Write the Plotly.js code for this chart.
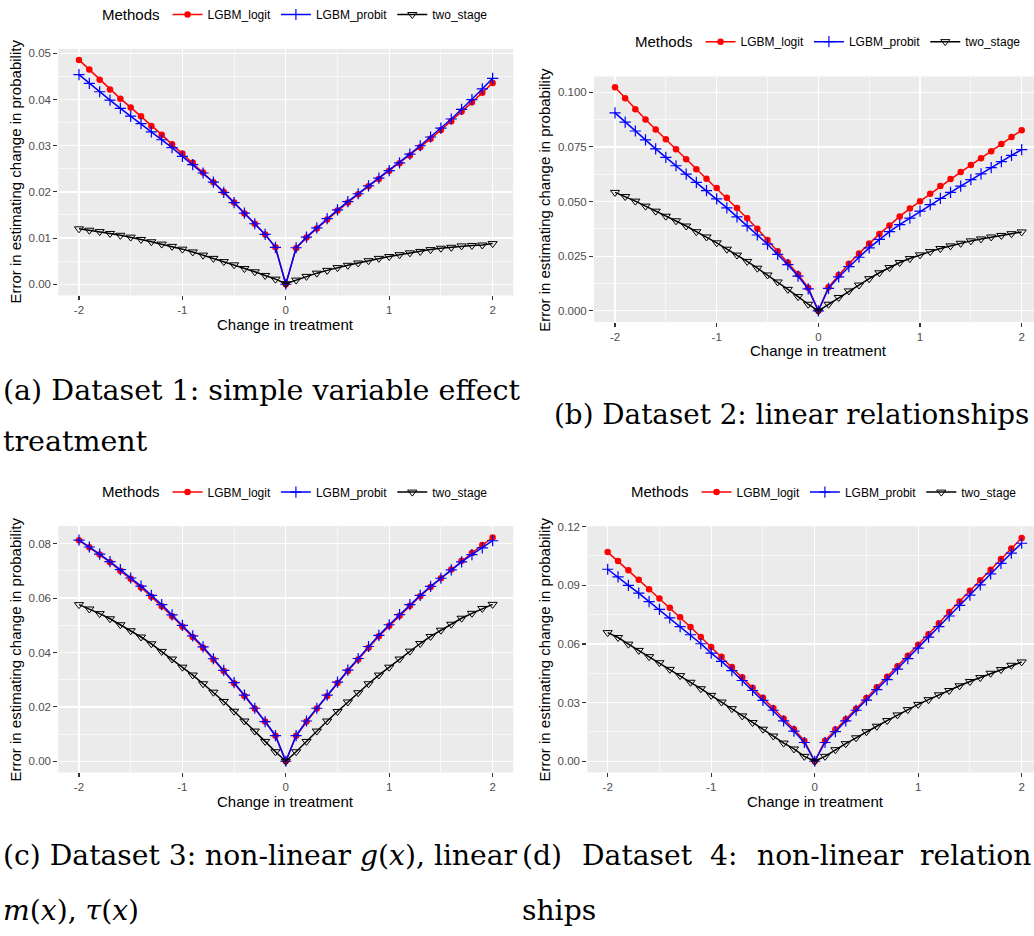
<!DOCTYPE html>
<html>
<head>
<meta charset="utf-8">
<script src="https://cdn.plot.ly/plotly-3.0.1.min.js"></script>
<style>html,body{margin:0;padding:0;background:#fff;}#chart{width:1034px;height:936px;}</style>
</head>
<body>
<div id="chart"></div>
<script>
// ---- data ----
const methods = ["LGBM_logit", "LGBM_probit", "two_stage"];
const treatment = [-2,-1.9,-1.8,-1.7,-1.6,-1.5,-1.4,-1.3,-1.2,-1.1,-1,-0.9,-0.8,-0.7,-0.6,-0.5,-0.4,-0.3,-0.2,-0.1,0,0.1,0.2,0.3,0.4,0.5,0.6,0.7,0.8,0.9,1,1.1,1.2,1.3,1.4,1.5,1.6,1.7,1.8,1.9,2];

// Dataset 1
const a_logit = [0.0486,0.0465,0.0443,0.0422,0.0402,0.0383,0.0364,0.0343,0.0324,0.0303,0.0283,0.0263,0.0242,0.0221,0.0200,0.0177,0.0153,0.0131,0.0108,0.0080,0.0000,0.0078,0.0101,0.0121,0.0140,0.0160,0.0177,0.0195,0.0212,0.0228,0.0246,0.0262,0.0279,0.0297,0.0315,0.0334,0.0353,0.0374,0.0394,0.0415,0.0436];
const a_probit = [0.0454,0.0435,0.0417,0.0399,0.0381,0.0364,0.0348,0.0330,0.0313,0.0296,0.0277,0.0259,0.0241,0.0221,0.0199,0.0177,0.0154,0.0131,0.0108,0.0080,0.0000,0.0079,0.0102,0.0122,0.0142,0.0161,0.0179,0.0196,0.0213,0.0230,0.0246,0.0263,0.0282,0.0300,0.0319,0.0338,0.0358,0.0379,0.0400,0.0423,0.0446];
const a_two = [0.0120,0.0117,0.0114,0.0110,0.0106,0.0102,0.0097,0.0092,0.0087,0.0082,0.0076,0.0070,0.0063,0.0056,0.0049,0.0042,0.0034,0.0027,0.0019,0.0011,0.0001,0.0009,0.0017,0.0024,0.0030,0.0036,0.0041,0.0046,0.0051,0.0056,0.0060,0.0064,0.0068,0.0071,0.0075,0.0078,0.0080,0.0083,0.0084,0.0085,0.0088];

// Dataset 2
const b_logit = [0.1023,0.0973,0.0923,0.0876,0.0830,0.0785,0.0739,0.0694,0.0648,0.0605,0.0562,0.0517,0.0471,0.0424,0.0376,0.0324,0.0273,0.0221,0.0167,0.0106,0.0000,0.0108,0.0164,0.0215,0.0262,0.0308,0.0352,0.0391,0.0432,0.0468,0.0502,0.0536,0.0571,0.0603,0.0635,0.0667,0.0698,0.0730,0.0764,0.0795,0.0827];
const b_probit = [0.0906,0.0864,0.0823,0.0782,0.0741,0.0702,0.0664,0.0626,0.0588,0.0550,0.0512,0.0471,0.0430,0.0389,0.0347,0.0305,0.0258,0.0211,0.0159,0.0100,0.0000,0.0103,0.0155,0.0202,0.0245,0.0288,0.0327,0.0362,0.0394,0.0424,0.0456,0.0486,0.0515,0.0542,0.0571,0.0600,0.0627,0.0655,0.0683,0.0711,0.0738];
const b_two = [0.0542,0.0523,0.0502,0.0479,0.0456,0.0433,0.0412,0.0388,0.0362,0.0338,0.0311,0.0282,0.0255,0.0226,0.0195,0.0164,0.0132,0.0098,0.0065,0.0030,0.0000,0.0030,0.0061,0.0091,0.0118,0.0147,0.0174,0.0198,0.0221,0.0239,0.0256,0.0271,0.0285,0.0297,0.0309,0.0320,0.0329,0.0338,0.0345,0.0353,0.0361];

// Dataset 3
const c_logit = [0.0813,0.0787,0.0760,0.0732,0.0701,0.0671,0.0639,0.0605,0.0570,0.0533,0.0496,0.0457,0.0417,0.0374,0.0332,0.0287,0.0240,0.0194,0.0146,0.0094,0.0000,0.0094,0.0146,0.0194,0.0240,0.0288,0.0332,0.0374,0.0417,0.0460,0.0498,0.0535,0.0572,0.0607,0.0641,0.0673,0.0705,0.0737,0.0766,0.0795,0.0823];
const c_probit = [0.0813,0.0788,0.0762,0.0734,0.0705,0.0674,0.0644,0.0610,0.0576,0.0538,0.0500,0.0461,0.0421,0.0377,0.0334,0.0289,0.0243,0.0195,0.0146,0.0094,0.0000,0.0094,0.0148,0.0195,0.0243,0.0291,0.0335,0.0378,0.0422,0.0463,0.0502,0.0539,0.0576,0.0610,0.0643,0.0673,0.0704,0.0733,0.0760,0.0785,0.0811];
const c_two = [0.0576,0.0560,0.0543,0.0524,0.0502,0.0480,0.0457,0.0432,0.0404,0.0376,0.0346,0.0317,0.0285,0.0254,0.0220,0.0184,0.0148,0.0111,0.0073,0.0035,0.0000,0.0035,0.0073,0.0111,0.0148,0.0183,0.0218,0.0252,0.0285,0.0317,0.0346,0.0376,0.0405,0.0433,0.0459,0.0482,0.0504,0.0526,0.0544,0.0562,0.0577];

// Dataset 4
const d_logit = [0.1070,0.1024,0.0977,0.0928,0.0880,0.0833,0.0785,0.0736,0.0687,0.0636,0.0584,0.0535,0.0482,0.0430,0.0376,0.0325,0.0271,0.0217,0.0164,0.0105,0.0000,0.0105,0.0162,0.0215,0.0269,0.0323,0.0379,0.0432,0.0486,0.0540,0.0596,0.0650,0.0706,0.0763,0.0817,0.0872,0.0926,0.0980,0.1034,0.1088,0.1142];
const d_probit = [0.0982,0.0943,0.0900,0.0860,0.0817,0.0777,0.0733,0.0689,0.0647,0.0601,0.0553,0.0511,0.0464,0.0413,0.0362,0.0311,0.0261,0.0207,0.0154,0.0096,0.0000,0.0096,0.0152,0.0207,0.0261,0.0313,0.0366,0.0418,0.0471,0.0525,0.0579,0.0635,0.0689,0.0743,0.0797,0.0850,0.0902,0.0958,0.1012,0.1065,0.1115];
const d_two = [0.0658,0.0633,0.0599,0.0567,0.0535,0.0504,0.0470,0.0438,0.0404,0.0371,0.0337,0.0303,0.0269,0.0232,0.0198,0.0164,0.0129,0.0093,0.0063,0.0025,0.0000,0.0025,0.0059,0.0090,0.0120,0.0151,0.0179,0.0208,0.0237,0.0264,0.0291,0.0315,0.0340,0.0362,0.0386,0.0408,0.0428,0.0450,0.0469,0.0491,0.0508];

const xTicks = [-2, -1, 0, 1, 2];
const yTicksA = [0, 0.01, 0.02, 0.03, 0.04, 0.05];
const yTicksB = [0, 0.025, 0.05, 0.075, 0.1];
const yTicksC = [0, 0.02, 0.04, 0.06, 0.08];
const yTicksD = [0, 0.03, 0.06, 0.09, 0.12];
const xTitle = "Change in treatment";
const yTitle = "Error in estimating change in probability";
const legendTitle = "Methods";

// ---- figure ----
const W = 1034, H = 936;
const px = v => v / W;
const py = v => 1 - v / H;
const SANS = "Liberation Sans, Arial, sans-serif";
const SERIF = "DejaVu Serif, serif";

const styles = [
  {color: "#FF0000", symbol: "circle", size: 6.5, mline: 0},
  {color: "#0000FF", symbol: "cross-thin", size: 8, mline: 1.2},
  {color: "#000000", symbol: "triangle-down-open", size: 8, mline: 1}
];

const panels = [
  {series: [a_logit, a_probit, a_two], ticks: yTicksA, fmt: ".2f", minor: 0.005,
   dom: [[58.3, 513.3], [45, 292.7]], xr: [-2.2, 2.2], yr: [-0.00243, 0.0510], legend: "legend"},
  {series: [b_logit, b_probit, b_two], ticks: yTicksB, fmt: ".3f", minor: 0.0125,
   dom: [[594, 1034], [72.7, 319.3]], xr: [-2.2066, 2.121], yr: [-0.0051, 0.1073], legend: "legend2"},
  {series: [c_logit, c_probit, c_two], ticks: yTicksC, fmt: ".2f", minor: 0.01,
   dom: [[58.3, 513.3], [524.3, 771.7]], xr: [-2.2, 2.2], yr: [-0.0041, 0.0865], legend: "legend3"},
  {series: [d_logit, d_probit, d_two], ticks: yTicksD, fmt: ".2f", minor: 0.015,
   dom: [[587.3, 1034], [524.5, 771.7]], xr: [-2.197, 2.119], yr: [-0.0057, 0.1202], legend: "legend4"}
];

const traces = [];
const layout = {
  width: W, height: H,
  margin: {l: 0, r: 0, t: 0, b: 0},
  paper_bgcolor: "#FFFFFF",
  plot_bgcolor: "#EBEBEB",
  font: {family: SANS, color: "#000000"},
  showlegend: true,
  annotations: [],
  shapes: []
};

const legendPos = [[100, 11], [633, 38.3], [100, 490.7], [629, 490.7]];

panels.forEach((p, i) => {
  const n = i === 0 ? "" : String(i + 1);
  const xa = "x" + n, ya = "y" + n;
  p.series.forEach((ys, k) => {
    const s = styles[k];
    traces.push({
      type: "scatter", mode: "lines+markers",
      x: treatment, y: ys, name: methods[k],
      xaxis: xa, yaxis: ya, legend: p.legend,
      line: {color: s.color, width: 1.5},
      marker: {color: s.color, symbol: s.symbol, size: s.size,
               line: {color: s.color, width: s.mline}},
      hoverinfo: "x+y+name"
    });
  });
  layout["xaxis" + n] = {
    domain: [px(p.dom[0][0]), px(p.dom[0][1])], anchor: ya,
    range: p.xr, tickvals: xTicks, ticktext: xTicks.map(String),
    ticks: "outside", ticklen: 4, tickwidth: 1.1, tickcolor: "#333333",
    tickfont: {size: 11.5, color: "#4D4D4D", family: SANS},
    showgrid: true, gridcolor: "#FFFFFF", gridwidth: 1.3,
    minor: {dtick: 0.5, tick0: 0, showgrid: true, gridcolor: "#FFFFFF", gridwidth: 0.6, ticks: ""},
    zeroline: false, showline: false, fixedrange: true
  };
  layout["yaxis" + n] = {
    domain: [py(p.dom[1][1]), py(p.dom[1][0])], anchor: xa,
    range: p.yr, tickvals: p.ticks, tickformat: p.fmt,
    ticks: "outside", ticklen: 4, tickwidth: 1.1, tickcolor: "#333333",
    tickfont: {size: 11.5, color: "#4D4D4D", family: SANS},
    showgrid: true, gridcolor: "#FFFFFF", gridwidth: 1.3,
    minor: {dtick: p.minor, tick0: 0, showgrid: true, gridcolor: "#FFFFFF", gridwidth: 0.6, ticks: ""},
    zeroline: false, showline: false, fixedrange: true
  };
  layout[p.legend] = {
    orientation: "h", x: px(legendPos[i][0]), y: py(legendPos[i][1]),
    xanchor: "left", yanchor: "middle",
    title: {text: legendTitle, side: "left", font: {size: 15, color: "#000000", family: SANS}},
    font: {size: 12, color: "#000000", family: SANS},
    bgcolor: "rgba(255,255,255,0)", itemwidth: 30, tracegroupgap: 0,
    itemclick: false, itemdoubleclick: false
  };
});

// axis titles
const axisTitles = [
  {x: 285.5, y: 321.7, t: xTitle, a: 0}, {x: 16, y: 168.3, t: yTitle, a: -90},
  {x: 818, y: 348.3, t: xTitle, a: 0}, {x: 545, y: 196.7, t: yTitle, a: -90},
  {x: 285.5, y: 801, t: xTitle, a: 0}, {x: 16, y: 648.3, t: yTitle, a: -90},
  {x: 815, y: 801, t: xTitle, a: 0}, {x: 545, y: 648.3, t: yTitle, a: -90}
];
axisTitles.forEach(o => layout.annotations.push({
  xref: "paper", yref: "paper", x: px(o.x), y: py(o.y),
  xanchor: "center", yanchor: "middle", showarrow: false, textangle: o.a,
  text: o.t, font: {size: 15, color: "#000000", family: SANS}
}));

// captions
const captions = [
  {x: 1, y: 388, t: "(a) Dataset 1: simple variable effect", a: "left", s: 28.5},
  {x: 1, y: 439, t: "treatment", a: "left", s: 28.5},
  {x: 552, y: 412, t: "(b) Dataset 2: linear relationships", a: "left", s: 27.8},
  {x: 1, y: 855, t: "(c) Dataset 3: non-linear <i>g</i>(<i>x</i>), linear", a: "left", s: 28.2},
  {x: 1, y: 910, t: "<i>m</i>(<i>x</i>), <i>τ</i>(<i>x</i>)", a: "left", s: 28.2},
  {x: 520, y: 855, t: "(d)", a: "left", s: 28.2},
  {x: 580, y: 855, t: "Dataset", a: "left", s: 28.2},
  {x: 708, y: 855, t: "4:", a: "left", s: 28.2},
  {x: 755, y: 855, t: "non-linear", a: "left", s: 28.2},
  {x: 1033, y: 855, t: "relation", a: "right", s: 28.2},
  {x: 520, y: 910, t: "ships", a: "left", s: 28.2}
];
captions.forEach(o => layout.annotations.push({
  xref: "paper", yref: "paper", x: px(o.x), y: py(o.y),
  xanchor: o.a, yanchor: "middle", showarrow: false,
  text: o.t, font: {size: o.s, color: "#000000", family: SERIF}
}));

Plotly.newPlot("chart", traces, layout, {displayModeBar: false, staticPlot: true});
</script>
</body>
</html>
